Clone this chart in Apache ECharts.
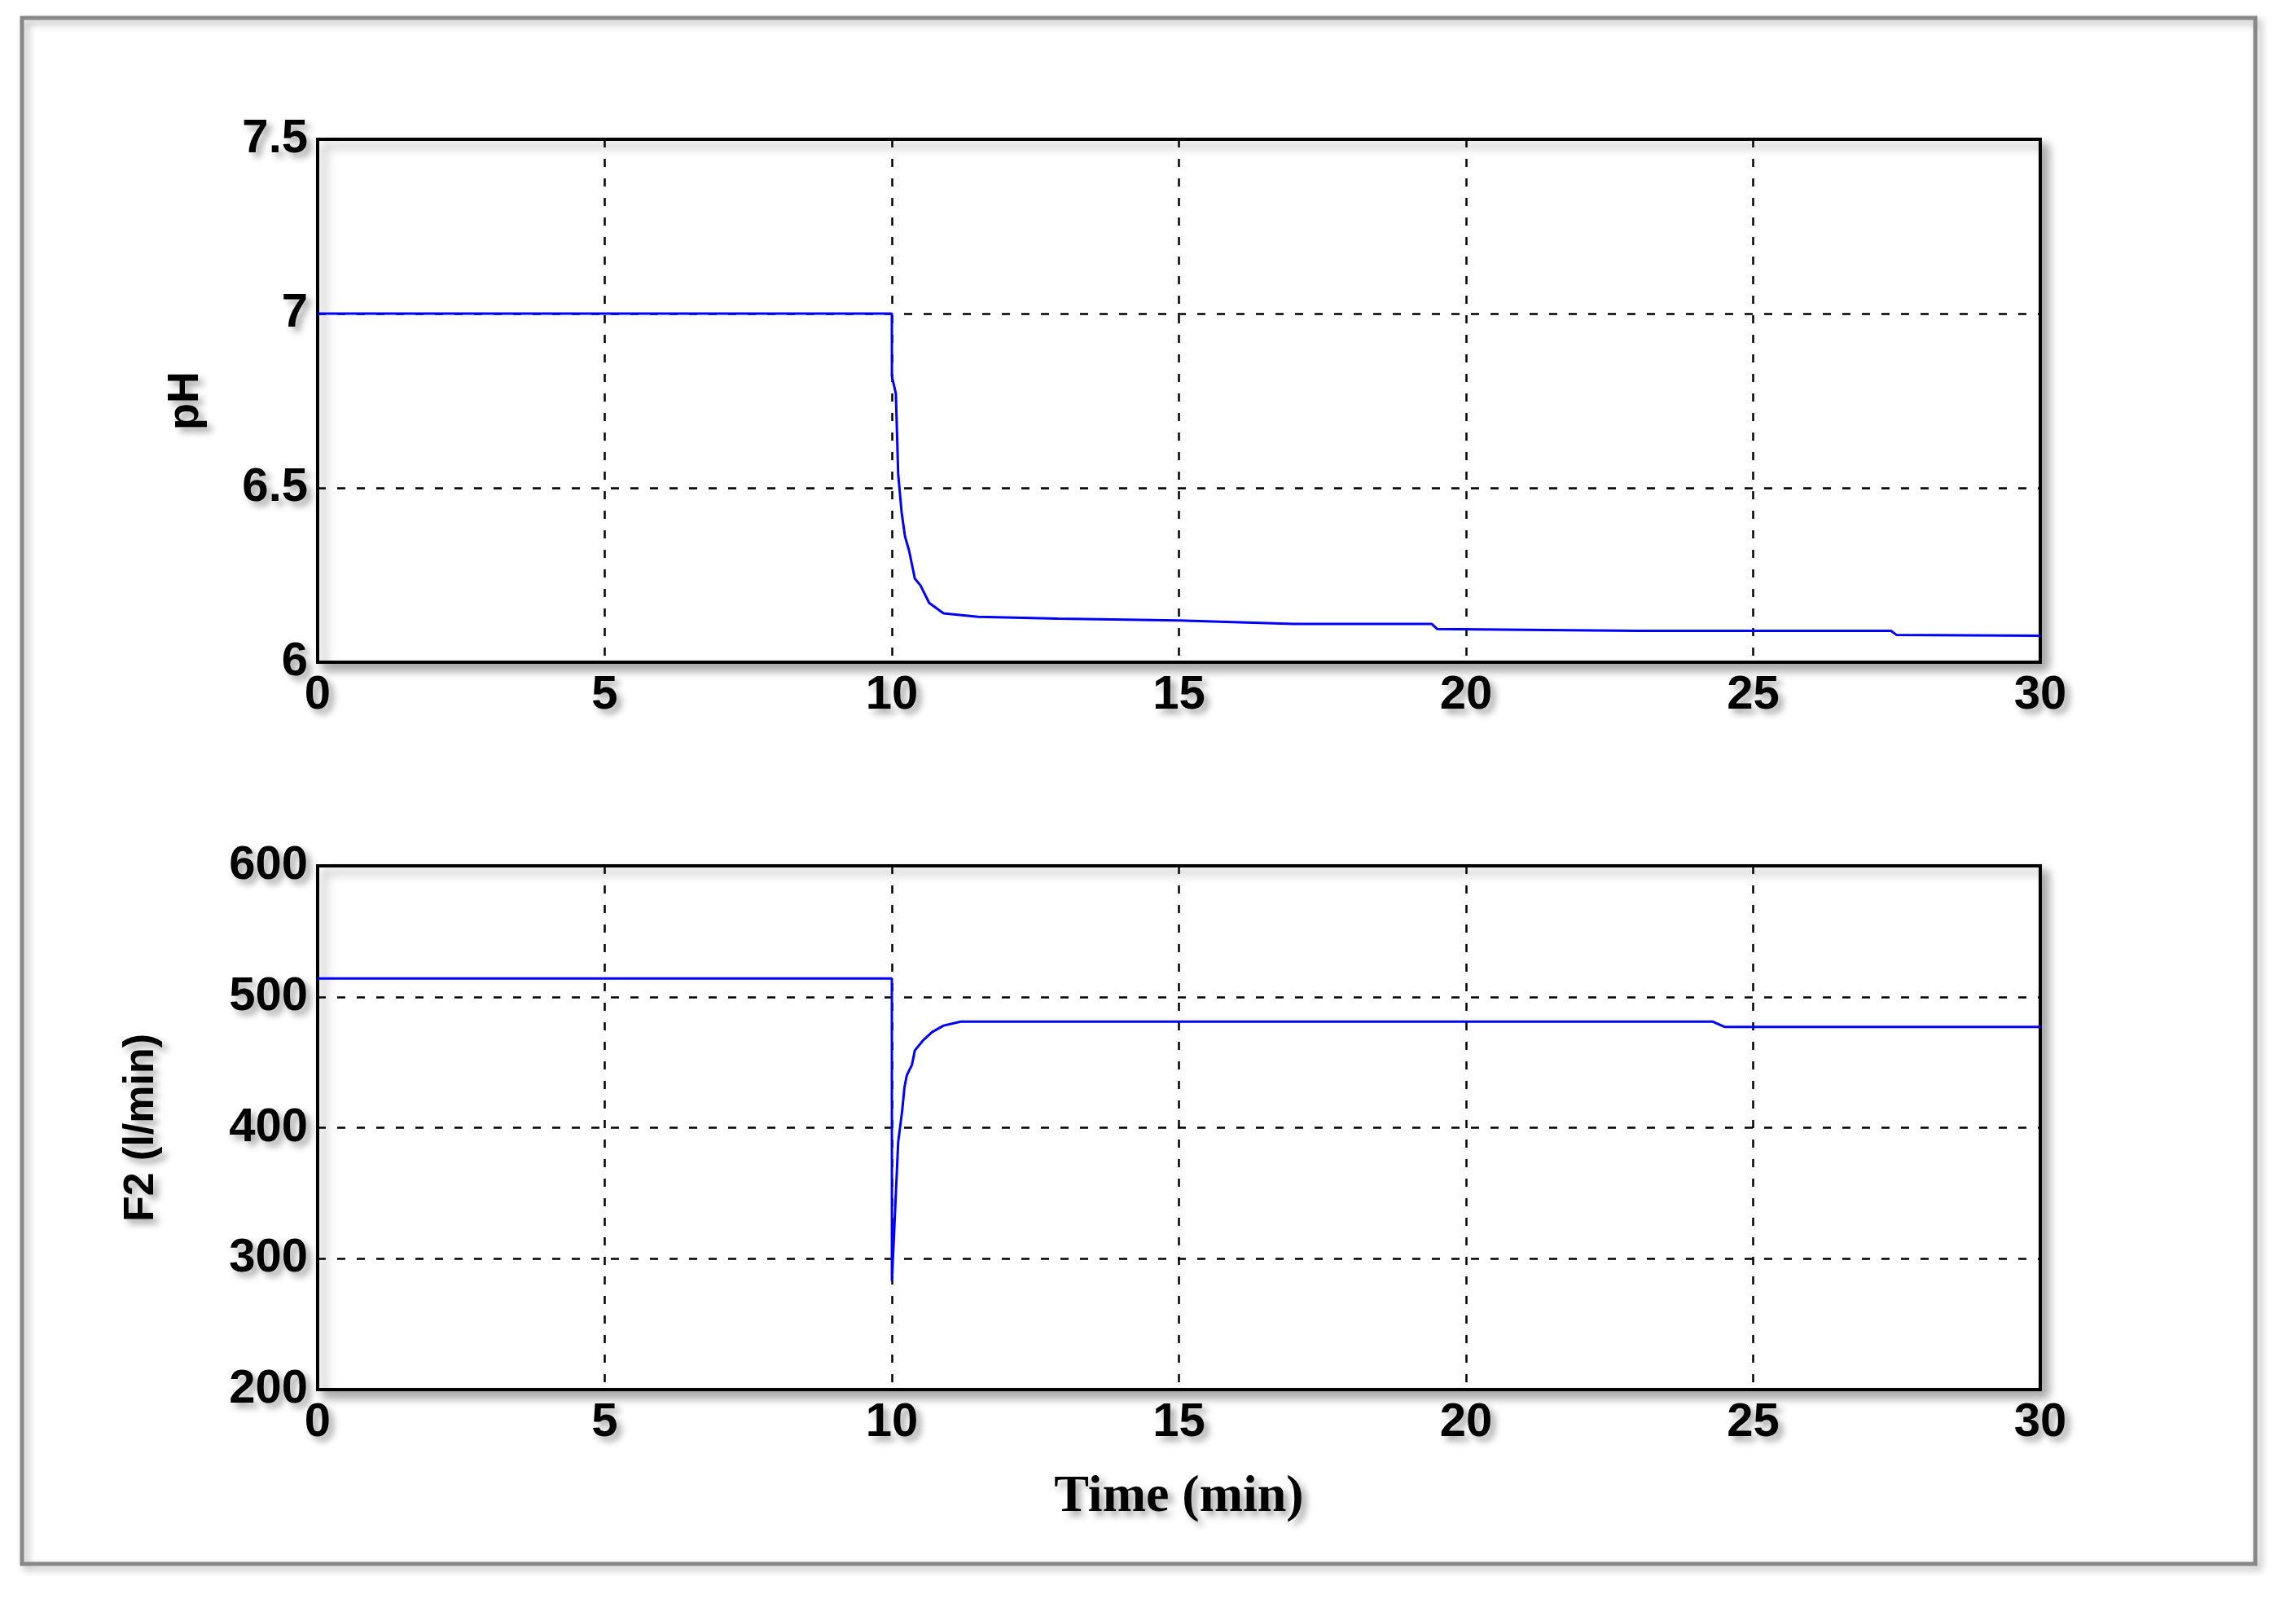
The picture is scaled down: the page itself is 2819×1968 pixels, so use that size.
<!DOCTYPE html>
<html>
<head>
<meta charset="utf-8">
<script src="https://cdn.jsdelivr.net/npm/echarts@6/dist/echarts.min.js"></script>
<style>html,body{margin:0;padding:0;background:#fff}#chart{width:2819px;height:1968px}</style>
</head>
<body>
<div id="chart"></div>
<script>
// time (min) and pH response
var phTime = [0, 10, 10.001, 10.07, 10.11, 10.17, 10.23, 10.3, 10.4, 10.5, 10.65, 10.9, 11.5, 12.9, 15, 17, 19.4, 19.5, 23, 27.4, 27.5, 30];
var phValue = [7, 7, 6.82, 6.77, 6.54, 6.43, 6.36, 6.32, 6.24, 6.22, 6.17, 6.14, 6.13, 6.125, 6.12, 6.11, 6.11, 6.095, 6.09, 6.09, 6.078, 6.076];
// time (min) and F2 flow (l/min)
var f2Time = [0, 10, 10.001, 10.05, 10.11, 10.18, 10.22, 10.26, 10.35, 10.4, 10.55, 10.7, 10.9, 11.2, 24.3, 24.5, 30];
var f2Value = [514, 514, 283, 330, 389, 413, 431, 440, 448, 459, 467, 473, 478, 481, 481, 477, 477];
var xTicks = [0, 5, 10, 15, 20, 25, 30];

function pairs(xs, ys) { return xs.map(function (x, i) { return [x, ys[i]]; }); }

var shadowText = {
    color: '#000', fontFamily: 'Liberation Sans', fontWeight: 'bold', fontSize: 58,
    textShadowColor: 'rgba(0,0,0,0.35)', textShadowBlur: 8, textShadowOffsetX: 6, textShadowOffsetY: 6
};
var dashed = { show: true, lineStyle: { color: '#000', type: [10, 14], width: 2.5 } };

function xAxis(idx) {
    return {
        type: 'value', gridIndex: idx, min: 0, max: 30, interval: 5,
        axisLine: { show: false }, axisTick: { show: false },
        axisLabel: Object.assign({ margin: 12 }, shadowText),
        splitLine: dashed
    };
}

var chart = echarts.init(document.getElementById('chart'));
chart.setOption({
    animation: false,
    graphic: [{
        type: 'rect', shape: { x: 27, y: 22, width: 2742, height: 1898 },
        style: { fill: 'none', stroke: '#888', lineWidth: 5, shadowColor: 'rgba(0,0,0,0.3)', shadowBlur: 10, shadowOffsetX: 5, shadowOffsetY: 5 }
    }],
    grid: [
        { left: 390, width: 2115, top: 171, height: 642, show: true, borderColor: '#000', borderWidth: 4, backgroundColor: '#fff', shadowColor: 'rgba(0,0,0,0.35)', shadowBlur: 12, shadowOffsetX: 8, shadowOffsetY: 8 },
        { left: 390, width: 2115, top: 1063, height: 643, show: true, borderColor: '#000', borderWidth: 4, backgroundColor: '#fff', shadowColor: 'rgba(0,0,0,0.35)', shadowBlur: 12, shadowOffsetX: 8, shadowOffsetY: 8 }
    ],
    xAxis: [
        xAxis(0),
        Object.assign(xAxis(1), {
            name: 'Time (min)', nameLocation: 'middle', nameGap: 100,
            nameTextStyle: Object.assign({}, shadowText, { fontFamily: 'Liberation Serif', fontSize: 64 })
        })
    ],
    yAxis: [
        {
            type: 'value', gridIndex: 0, min: 6, max: 7.5, interval: 0.5,
            axisLine: { show: false }, axisTick: { show: false },
            axisLabel: Object.assign({ margin: 12 }, shadowText), splitLine: dashed,
            name: 'pH', nameLocation: 'middle', nameGap: 135,
            nameTextStyle: Object.assign({}, shadowText, { fontSize: 54 })
        },
        {
            type: 'value', gridIndex: 1, min: 200, max: 600, interval: 100,
            axisLine: { show: false }, axisTick: { show: false },
            axisLabel: Object.assign({ margin: 12 }, shadowText), splitLine: dashed,
            name: 'F2 (l/min)', nameLocation: 'middle', nameGap: 190,
            nameTextStyle: Object.assign({}, shadowText, { fontSize: 52 })
        }
    ],
    series: [
        { type: 'line', xAxisIndex: 0, yAxisIndex: 0, data: pairs(phTime, phValue), showSymbol: false, lineStyle: { color: '#0000ff', width: 3 } },
        { type: 'line', xAxisIndex: 1, yAxisIndex: 1, data: pairs(f2Time, f2Value), showSymbol: false, lineStyle: { color: '#0000ff', width: 3 } }
    ]
});
</script>
</body>
</html>
